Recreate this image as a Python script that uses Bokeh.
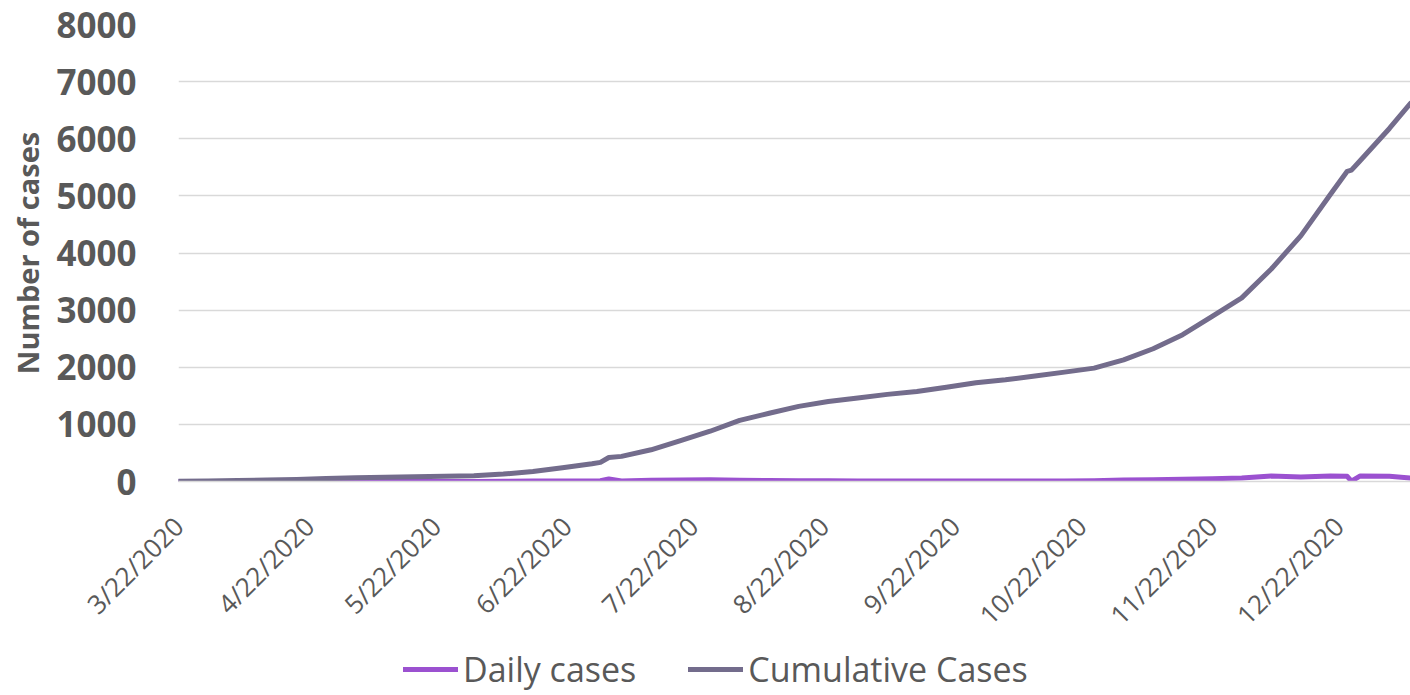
import math
import pandas as pd
from bokeh.plotting import figure
from bokeh.layouts import column
from bokeh.models import Range1d, FixedTicker, Legend, LegendItem, ColumnDataSource
from bokeh.embed import file_html
from bokeh.resources import INLINE

# ---- data ----
dates = ["3/22/2020", "3/29/2020", "4/5/2020", "4/12/2020", "4/19/2020", "4/26/2020",
         "5/3/2020", "5/10/2020", "5/17/2020", "5/24/2020", "5/31/2020", "6/7/2020",
         "6/14/2020", "6/21/2020", "6/28/2020", "6/30/2020", "7/2/2020", "7/5/2020",
         "7/12/2020", "7/19/2020", "7/26/2020", "8/2/2020", "8/9/2020", "8/16/2020",
         "8/23/2020", "8/30/2020", "9/6/2020", "9/13/2020", "9/20/2020", "9/27/2020",
         "10/4/2020", "10/11/2020", "10/18/2020", "10/25/2020", "11/1/2020", "11/8/2020",
         "11/15/2020", "11/22/2020", "11/29/2020", "12/6/2020", "12/13/2020", "12/20/2020",
         "12/24/2020", "12/25/2020", "12/27/2020", "1/3/2021", "1/8/2021"]

daily_cases = [2, 1, 1, 1, 1, 2,
               2, 1, 1, 1, 2, 5,
               7, 9, 10, 12, 45, 8,
               20, 25, 30, 22, 18, 15,
               12, 10, 9, 8, 10, 10,
               9, 10, 10, 14, 25, 30,
               40, 50, 60, 95, 80, 95,
               90, 5, 95, 90, 60]

cumulative_cases = [5, 10, 17, 25, 33, 52,
                    65, 75, 85, 92, 102, 130,
                    175, 240, 310, 335, 420, 440,
                    555, 715, 880, 1070, 1195, 1315,
                    1400, 1460, 1525, 1575, 1650, 1727,
                    1780, 1845, 1915, 1985, 2130, 2324,
                    2570, 2890, 3215, 3720, 4300, 5025,
                    5430, 5450, 5610, 6180, 6620]

tick_labels = ["3/22/2020", "4/22/2020", "5/22/2020", "6/22/2020", "7/22/2020",
               "8/22/2020", "9/22/2020", "10/22/2020", "11/22/2020", "12/22/2020"]

y_ticks = [0, 1000, 2000, 3000, 4000, 5000, 6000, 7000, 8000]

series_names = ["Daily cases", "Cumulative Cases"]
series_colors = ["#9b51d0", "#736c8c"]

# ---- derived positions (days since first date) ----
start = pd.to_datetime(dates[0], format="%m/%d/%Y")
day_x = [(pd.to_datetime(d, format="%m/%d/%Y") - start).days for d in dates]
tick_x = [(pd.to_datetime(t, format="%m/%d/%Y") - start).days for t in tick_labels]

src = ColumnDataSource(dict(x=day_x, daily=daily_cases, cum=cumulative_cases))

FONT = "Open Sans"
TXT = "#595959"

p = figure(width=1410, height=647, output_backend="svg", toolbar_location=None,
           x_range=Range1d(0, day_x[-1]), y_range=Range1d(0, 8000),
           min_border_left=178, min_border_right=0, min_border_top=24,
           min_border_bottom=166)
p.outline_line_color = None
p.xgrid.visible = False
p.ygrid.ticker = FixedTicker(ticks=y_ticks)
p.ygrid.grid_line_color = "#d9d9d9"
p.ygrid.grid_line_width = 1.3

yax = p.yaxis[0]
yax.ticker = FixedTicker(ticks=y_ticks)
yax.axis_line_color = None
yax.major_tick_line_color = None
yax.minor_tick_line_color = None
yax.major_tick_out = 0
yax.major_label_standoff = 42
yax.major_label_text_font = FONT
yax.major_label_text_font_size = "35px"
yax.major_label_text_font_style = "bold"
yax.major_label_text_color = TXT
yax.axis_label = "Number of cases"
yax.axis_label_text_font = FONT
yax.axis_label_text_font_size = "29px"
yax.axis_label_text_font_style = "bold"
yax.axis_label_text_color = TXT
yax.axis_label_standoff = 6

xax = p.xaxis[0]
xax.ticker = FixedTicker(ticks=tick_x)
xax.major_label_overrides = {tx: lab for tx, lab in zip(tick_x, tick_labels)}
xax.major_label_orientation = math.pi / 4
xax.axis_line_color = "#d9d9d9"
xax.axis_line_width = 1.3
xax.major_tick_line_color = None
xax.minor_tick_line_color = None
xax.major_tick_out = 0
xax.major_label_standoff = 40
xax.major_label_text_font = FONT
xax.major_label_text_font_size = "26px"
xax.major_label_text_color = TXT

p.line("x", "daily", source=src, line_color=series_colors[0], line_width=5,
       line_join="round", line_cap="round")
p.line("x", "cum", source=src, line_color=series_colors[1], line_width=5,
       line_join="round", line_cap="round")

# ---- legend strip below the chart ----
lg = figure(width=1410, height=48, output_backend="svg", toolbar_location=None,
            x_range=Range1d(0, 1), y_range=Range1d(0, 1),
            x_axis_location=None, y_axis_location=None,
            min_border_left=0, min_border_right=0, min_border_top=0,
            min_border_bottom=0)
lg.outline_line_color = None
lg.grid.visible = False
items = []
for name, col in zip(series_names, series_colors):
    # off-range dummy line, only so that the legend has a glyph to draw
    r = lg.line([-2, -1], [-2, -2], line_color=col, line_width=5, line_cap="round")
    items.append(LegendItem(label=name, renderers=[r]))

legend = Legend(items=items, orientation="horizontal", location=(225, 3),
                label_text_font=FONT, label_text_font_size="34px",
                label_text_color=TXT, glyph_width=55, glyph_height=40,
                label_height=40, label_standoff=5, spacing=52, padding=0,
                margin=0, border_line_color=None, background_fill_alpha=0)
lg.add_layout(legend)

layout = column(p, lg, spacing=0)
open("out.html", "w").write(file_html(layout, INLINE))
